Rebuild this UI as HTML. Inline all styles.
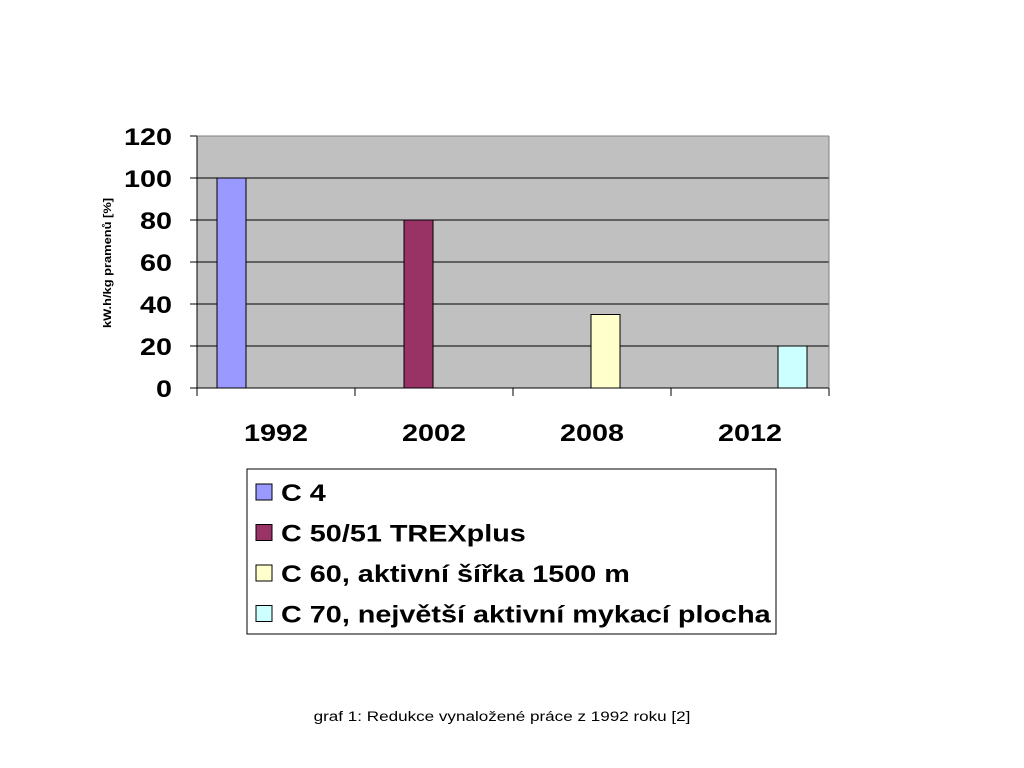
<!DOCTYPE html>
<html><head><meta charset="utf-8"><style>
html,body{margin:0;padding:0;background:#fff;}
svg{display:block;font-family:"Liberation Sans",Arial,sans-serif;}
</style></head><body>
<svg id="chart" width="1024" height="768" viewBox="0 0 1024 768">
<rect x="197" y="136" width="632" height="252" fill="#c0c0c0"/>
<g id="grid"></g>
<g id="bars"></g>
<g id="axes"></g>
<text x="0" y="0" font-size="11" font-weight="bold" text-anchor="middle" transform="translate(111 263) rotate(-90) scale(1.17 1)">kW.h/kg pramenů [%]</text>
<rect x="247" y="469" width="529" height="165" fill="#fff" stroke="#000" stroke-width="1"/>
<g id="legend"></g>
<text x="0" y="0" font-size="14" text-anchor="middle" transform="translate(502 721) scale(1.22 1)">graf 1: Redukce vynaložené práce z 1992 roku [2]</text>
</svg>
<script>
const categories = ["1992","2002","2008","2012"];
const seriesNames = ["C 4","C 50/51 TREXplus","C 60, aktivní šířka 1500 m","C 70, největší aktivní mykací plocha"];
const seriesValues = [100,80,35,20];
const seriesColors = ["#9999ff","#993366","#ffffcc","#ccffff"];
const yTicks = [0,20,40,60,80,100,120];

const NS="http://www.w3.org/2000/svg";
const X0=197,X1=829,Y0=388,Y1=136,YMAX=120;
const y=v=>Y0-(v/YMAX)*(Y0-Y1);
const catW=(X1-X0)/categories.length;
const barW=29, gapOff=20, SX=1.2;
function mk(tag,attrs,parent){const e=document.createElementNS(NS,tag);for(const k in attrs)e.setAttribute(k,attrs[k]);parent.appendChild(e);return e;}
function txt(x,yy,size,anchor,parent){return mk('text',{x:0,y:0,'font-size':size,'font-weight':'bold','text-anchor':anchor,transform:`translate(${x} ${yy}) scale(${SX} 1)`},parent);}
const grid=document.getElementById('grid'),bars=document.getElementById('bars'),axes=document.getElementById('axes'),legend=document.getElementById('legend');

yTicks.forEach(t=>{
  if(t>0){const l=mk('line',{x1:X0,x2:X1,y1:y(t),y2:y(t),stroke:'#000','stroke-width':1},grid);
  
  }
  const tk=mk('line',{x1:X0-7,x2:X0,y1:y(t),y2:y(t),stroke:'#000'},axes);
  
  
  const tx=txt(172,y(t)+9,24,'end',axes);
  tx.textContent=t;
  
  
});
mk('line',{x1:X0,x2:X0,y1:Y1,y2:Y0+8,stroke:'#000'},axes);
mk('line',{x1:X0,x2:X1,y1:Y0,y2:Y0,stroke:'#000'},axes);
mk('line',{x1:X1,x2:X1,y1:Y1,y2:Y0,stroke:'#808080'},axes);
mk('line',{x1:X0,x2:X1,y1:Y1,y2:Y1,stroke:'#808080'},axes);
categories.forEach((c,i)=>{
  const tk=mk('line',{x1:X0+(i+1)*catW,x2:X0+(i+1)*catW,y1:Y0,y2:Y0+8,stroke:'#000'},axes);
  
  
  const tx=txt(X0+(i+0.5)*catW,441,24,'middle',axes);
  tx.textContent=c;
  
  
});
seriesValues.forEach((v,i)=>{
  const bx=X0+i*catW+gapOff+i*barW;
  const r=mk('rect',{x:bx,y:y(v),width:barW,height:Y0-y(v),fill:seriesColors[i],stroke:'#000','stroke-width':1},bars);
  
  
});
seriesNames.forEach((n,i)=>{
  const cy=492+i*40.5;
  const s=mk('rect',{x:256,y:cy-8,width:16,height:16,fill:seriesColors[i],stroke:'#000'},legend);
  
  
  const t=txt(281,cy+9,24,'start',legend);
  t.textContent=n;
  
  
});
</script>
</body></html>
